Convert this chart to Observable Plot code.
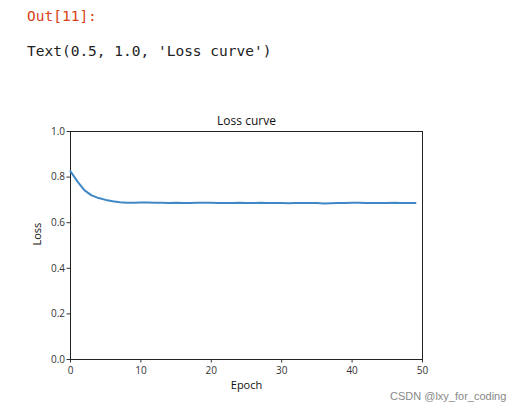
<!DOCTYPE html>
<html><head><meta charset="utf-8">
<script src="https://cdn.jsdelivr.net/npm/d3@7"></script>
<script src="https://cdn.jsdelivr.net/npm/@observablehq/plot@0.6"></script>
<style>
body{margin:0;background:#fff;width:521px;height:414px;position:relative;overflow:hidden}
.mono{position:absolute;font-family:"DejaVu Sans Mono",monospace;font-size:14.5px;white-space:pre}
#out{left:27px;top:8px;color:#d84315}
#txt{left:27px;top:43px;color:#222}
#chart{position:absolute;left:0;top:100px}
#wm{position:absolute;left:390px;top:390px;font-family:"Liberation Sans",Arial,sans-serif;font-size:11px;color:#888}
</style></head><body>
<div class="mono" id="out">Out[11]:</div>
<div class="mono" id="txt">Text(0.5, 1.0, 'Loss curve')</div>
<div id="chart"></div>
<div id="wm">CSDN @lxy_for_coding</div>
<script>
const epochs = d3.range(50);
const loss = [0.825,0.78,0.742,0.72,0.708,0.700,0.694,0.690,0.688,0.688,0.689,0.689,0.688,0.687,0.686,0.687,0.686,0.686,0.687,0.687,0.687,0.686,0.686,0.686,0.687,0.686,0.686,0.687,0.686,0.686,0.686,0.685,0.686,0.686,0.686,0.686,0.684,0.685,0.686,0.686,0.687,0.687,0.686,0.686,0.686,0.686,0.687,0.686,0.686,0.686];
const xTicks = [0,10,20,30,40,50];
const yTicks = [0,0.2,0.4,0.6,0.8,1.0];
const data = epochs.map((e,i)=>({epoch:e, loss:loss[i]}));
const font = "Open Sans, sans-serif";
const chart = Plot.plot({
  width: 521, height: 300,
  marginLeft: 70, marginRight: 99, marginTop: 31, marginBottom: 41,
  style: {fontFamily: font, fontSize: "10px", color: "#333", background: "transparent"},
  x: {domain: [0,50], ticks: xTicks, tickSize: 3.5, tickPadding: 4, label: null},
  y: {domain: [0,1], ticks: yTicks, tickFormat: d3.format(".1f"), tickSize: 3.5, tickPadding: 2, label: null},
  marks: [
    Plot.frame({stroke: "#222", strokeWidth: 1}),
    Plot.line(data, {x: "epoch", y: "loss", stroke: "#3f88c5", strokeWidth: 2}),
    Plot.text(["Loss curve"], {frameAnchor: "top", dy: -15, fontSize: 12, fill: "#111"}),
    Plot.text(["Epoch"], {frameAnchor: "bottom", dy: 29, fontSize: 11, fill: "#111"}),
    Plot.text(["Loss"], {frameAnchor: "left", dx: -33, rotate: -90, fontSize: 11, fill: "#111"})
  ]
});
document.getElementById("chart").appendChild(chart);
</script>
</body></html>
